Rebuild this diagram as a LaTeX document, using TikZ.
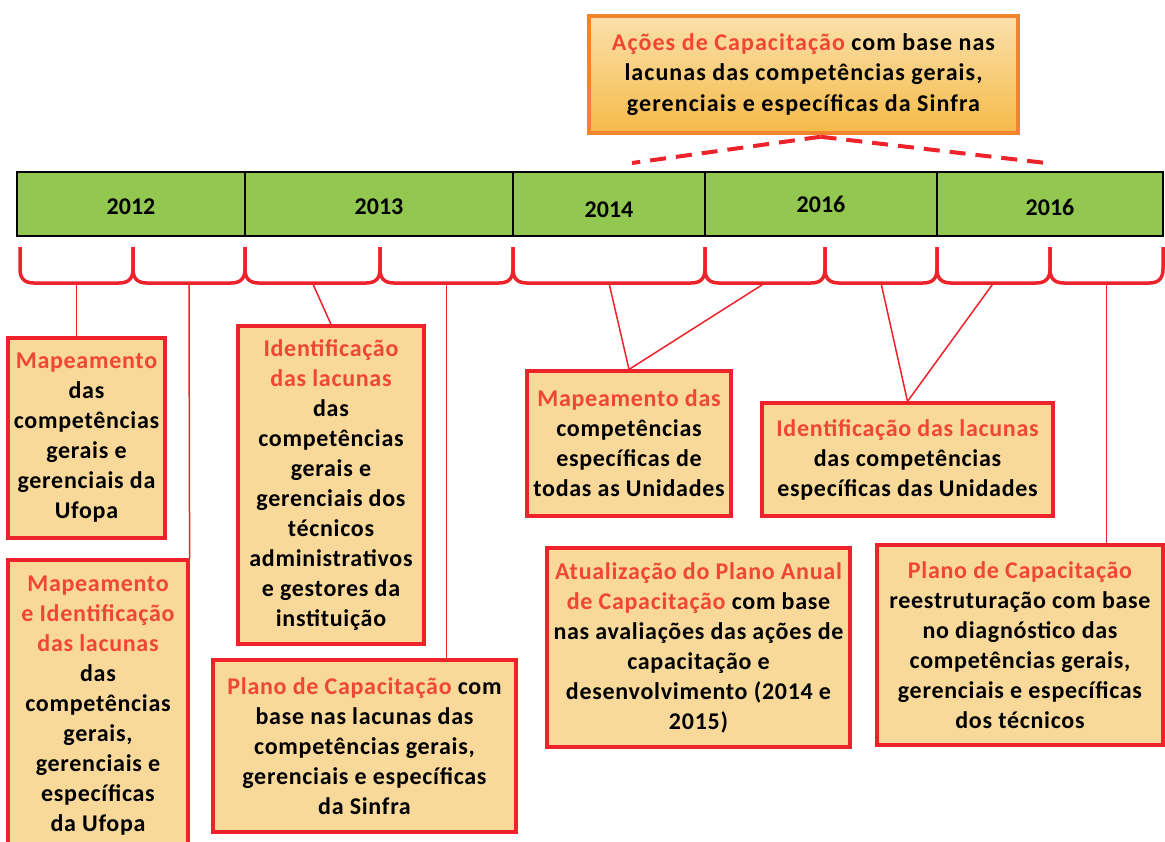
\documentclass[tikz,border=0pt]{standalone}
\usepackage{fontspec}
\setmainfont{Carlito}
\usetikzlibrary{calc}
\definecolor{bred}{RGB}{237,34,43}
\definecolor{tred}{RGB}{240,70,52}
\definecolor{bfill}{RGB}{249,217,154}
\definecolor{bgreen}{RGB}{146,200,80}
\definecolor{borange}{RGB}{241,133,45}
\definecolor{otop}{RGB}{250,224,172}
\definecolor{obot}{RGB}{245,186,72}
\newcommand{\hl}[1]{\textcolor{tred}{#1}}
\begin{document}
\begin{tikzpicture}[x=1pt,y=-1pt,
  txt/.style={font=\fontsize{24}{30}\selectfont\bfseries\addfontfeature{LetterSpace=3}, align=center},
  box/.style={txt, draw=bred, line width=3.2pt, fill=bfill, inner sep=0pt},
  yearcell/.style={draw=black, line width=2.5pt, fill=bgreen, inner sep=0pt, minimum height=64pt,
     text height=15.5pt, text depth=0pt, font=\fontsize{24}{30}\selectfont\bfseries},
  bracepath/.style={draw=bred, line width=3.5pt, line join=round},
  conn/.style={draw=bred, line width=1.5pt},
  dashline/.style={draw=bred, line width=4pt, dash pattern=on 16pt off 10pt}]
\clip (0,0) rectangle (1165,841);
\fill[white] (0,0) rectangle (1165,841);

% timeline cells
\node[yearcell, minimum width=228pt] (y1) at (131,204) {\raisebox{-3pt}{2012}};
\node[yearcell, minimum width=268pt] (y2) at (379,204) {\raisebox{-3pt}{2013}};
\node[yearcell, minimum width=192pt] (y3) at (609,204) {\raisebox{-6pt}{2014}};
\node[yearcell, minimum width=232pt] (y4) at (821,204) {\raisebox{-1pt}{2016}};
\node[yearcell, minimum width=226pt] (y5) at (1050,204) {\raisebox{-4pt}{2016}};

% braces
\foreach \a/\b [count=\i] in {20/133,133/245,245/380,380/513,513/705,705/825,825/937,937/1050,1050/1163}{
  \draw[bracepath] (\a,247) -- (\a,269) .. controls (\a,278) and (\a+4,283) .. (\a+14,283)
     -- (\b-14,283) .. controls (\b-4,283) and (\b,278) .. (\b,269) -- (\b,247);
  \coordinate (k\i) at ({(\a+\b)/2},283);
}

% top box
\node[align=center, font=\fontsize{24}{30.5}\selectfont\bfseries\addfontfeature{LetterSpace=4.5},
      draw=borange, line width=3.5pt, top color=otop, bottom color=obot, inner sep=0pt,
      minimum width=429pt, minimum height=117pt] (T) at (803.5,74.5)
  {\hl{Ações de Capacitação} com base nas\\lacunas das competências gerais,\\gerenciais e específicas da Sinfra};
\coordinate (d1) at (632,163);
\coordinate (d2) at (1046,163);
\draw[dashline] ([xshift=17pt,yshift=-2pt]T.south) -- (d1);
\draw[dashline] ([xshift=17pt,yshift=-2pt]T.south) -- (d2);

% boxes
\node[box, minimum width=157pt, minimum height=200pt] (b1) at (86.5,438)
  {\hl{Mapeamento}\\das\\competências\\gerais e\\gerenciais da\\Ufopa};
\node[box, minimum width=180pt, minimum height=292pt] (b2) at (98,706)
  {\hl{Mapeamento}\\\hl{e Identificação}\\\hl{das lacunas}\\das\\competências\\gerais,\\gerenciais e\\específicas\\da Ufopa};
\node[box, minimum width=186pt, minimum height=318pt] (b3) at (331,485)
  {\hl{Identificação}\\\hl{das lacunas}\\das\\competências\\gerais e\\gerenciais dos\\técnicos\\administrativos\\e gestores da\\instituição};
\node[box, minimum width=303pt, minimum height=172pt] (b4) at (364.5,746)
  {\hl{Plano de Capacitação} com\\base nas lacunas das\\competências gerais,\\gerenciais e específicas\\da Sinfra};
\node[box, minimum width=204pt, minimum height=145pt] (b5) at (629,443.5)
  {\hl{Mapeamento das}\\competências\\específicas de\\todas as Unidades};
\node[box, minimum width=291pt, minimum height=113pt] (b6) at (907.5,459.5)
  {\hl{Identificação das lacunas}\\das competências\\específicas das Unidades};
\node[box, minimum width=303pt, minimum height=199pt] (b7) at (698.5,647.5)
  {\hl{Atualização do Plano Anual}\\\hl{de Capacitação} com base\\nas avaliações das ações de\\capacitação e\\desenvolvimento (2014 e\\2015)};
\node[box, minimum width=286pt, minimum height=200pt] (b8) at (1020,645)
  {\hl{Plano de Capacitação}\\reestruturação com base\\no diagnóstico das\\competências gerais,\\gerenciais e específicas\\dos técnicos};

% connectors
\draw[conn] (k1) -- (k1 |- b1.north);
\draw[conn] (k2) -- (b2.north east);
\draw[conn] (k3) -- (b3.north);
\draw[conn] (k4) -- (k4 |- b4.north);
\draw[conn] (k5) -- (b5.north);
\draw[conn] (k6) -- (b5.north);
\draw[conn] (k7) -- (b6.north);
\draw[conn] (k8) -- (b6.north);
\draw[conn] (k9) -- (k9 |- b8.north);
\end{tikzpicture}
\end{document}
